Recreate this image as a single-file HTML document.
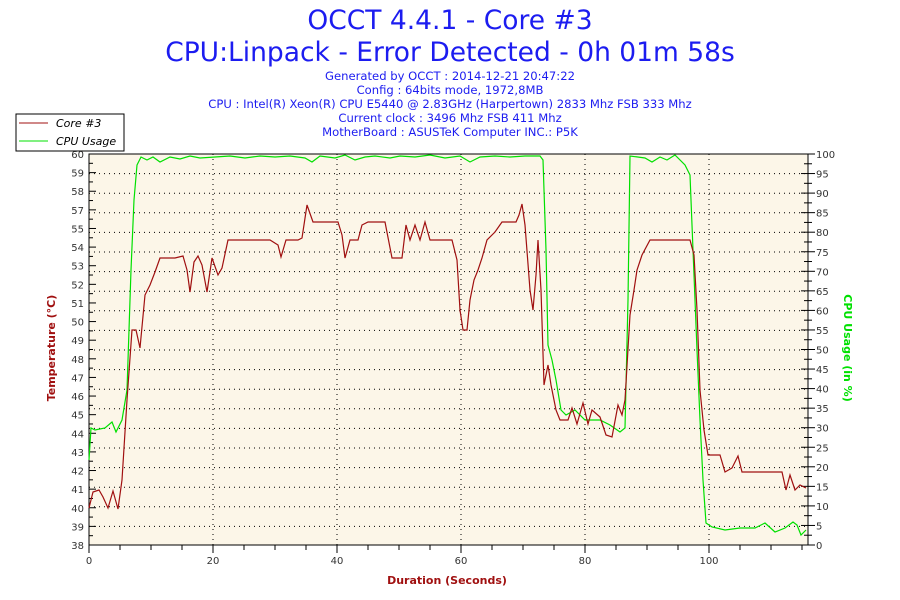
<!DOCTYPE html>
<html><head><meta charset="utf-8"><style>body{margin:0;background:#fff}svg{display:block;font-family:"DejaVu Sans","Liberation Sans",sans-serif}</style></head><body>
<svg width="900" height="600" xmlns="http://www.w3.org/2000/svg">
<rect width="900" height="600" fill="#fff"/>
<g fill="#1c1cf0" text-anchor="middle">
<text x="450" y="29" font-size="26.5">OCCT 4.4.1 - Core #3</text>
<text x="450" y="61" font-size="26.5">CPU:Linpack - Error Detected - 0h 01m 58s</text>
<g font-size="11.6">
<text x="450" y="80">Generated by OCCT : 2014-12-21 20:47:22</text>
<text x="450" y="94">Config : 64bits mode, 1972,8MB</text>
<text x="450" y="108">CPU : Intel(R) Xeon(R) CPU E5440 @ 2.83GHz (Harpertown) 2833 Mhz FSB 333 Mhz</text>
<text x="450" y="122">Current clock : 3496 Mhz FSB 411 Mhz</text>
<text x="450" y="136">MotherBoard : ASUSTeK Computer INC.: P5K</text>
</g></g>
<rect x="89" y="154" width="719" height="391" fill="#fcf6e8"/>
<g stroke="#000" stroke-width="1" stroke-dasharray="1,4">
<path d="M89 173.6H808M89 193.2H808M89 212.8H808M89 232.4H808M89 252H808M89 271.6H808M89 291.2H808M89 310.8H808M89 330.4H808M89 350H808M89 369.6H808M89 389.2H808M89 408.8H808M89 428.4H808M89 448H808M89 467.6H808M89 487.2H808M89 506.8H808M89 526.4H808"/>
<path d="M213 154V545M337 154V545M461 154V545M585 154V545M709 154V545"/>
</g>
<path d="M89 154H808V545H89Z" fill="none" stroke="#000"/>
<g stroke="#000">
<path d="M89 154V545M808 154V545M89 545H808"/>
<path d="M89 545v8M213 545v8M337 545v8M461 545v8M585 545v8M709 545v8M120 545v5M151 545v5M182 545v5M244 545v5M275 545v5M306 545v5M368 545v5M399 545v5M430 545v5M492 545v5M523 545v5M554 545v5M616 545v5M647 545v5M678 545v5M740 545v5M771 545v5M802 545v5"/>
</g>
<g font-size="10" fill="#333" text-anchor="middle">
<text x="89" y="564">0</text><text x="213" y="564">20</text><text x="337" y="564">40</text><text x="461" y="564">60</text><text x="585" y="564">80</text><text x="709" y="564">100</text>
</g>
<g font-size="10" fill="#333" text-anchor="end" id="ly"></g>
<g font-size="10" fill="#333" id="ry"></g>
<g stroke="#000" id="tk"></g>
<polyline fill="none" stroke="#00e000" stroke-width="1.2" points="89,460 91,428 95,430 105,428 112,422 116,432 122,420 127,390 131,270 134,200 137,165 141,157 147,160 153,157 160,162 170,157 180,159 190,156 200,158 215,157 230,156 245,158 260,156 275,157 290,156 305,158 312,162 320,156 335,158 345,155 355,160 365,157 375,156 390,158 400,156 415,157 430,155 445,158 460,156 470,162 480,157 495,156 510,157 525,156 540,156 543,160 546,250 548,345 552,360 556,380 561,410 566,415 575,410 585,420 600,420 610,425 620,432 625,428 628,300 630,156 645,158 652,162 660,157 667,160 675,155 685,165 690,175 693,250 697,350 700,420 703,480 706,523 712,527 725,530 740,528 755,528 765,523 775,532 785,528 793,522 797,525 801,535 806,530"/>
<polyline fill="none" stroke="#a01010" stroke-width="1.2" points="89,508 93,492 99,490 103,497 108,508 113,491 118,509 122,480 127,400 132,330 136,330 140,348 145,295 150,285 155,272 160,258 175,258 183,256 187,270 190,292 194,262 198,256 202,265 207,292 212,258 218,275 222,268 228,240 270,240 278,245 281,257 286,240 298,240 302,238 307,205 313,222 338,222 342,235 345,258 350,240 358,240 362,225 368,222 385,222 392,258 402,258 406,225 410,240 415,225 420,240 425,222 430,240 452,240 457,260 460,310 463,330 467,330 470,300 474,280 478,270 482,258 487,240 495,232 502,222 516,222 519,215 522,204 525,225 530,290 533,310 536,275 538,240 541,290 544,385 548,365 551,385 556,410 560,420 568,420 572,408 577,424 583,403 588,424 592,410 600,417 606,435 612,437 618,405 622,415 625,400 630,315 634,290 637,270 642,255 650,240 690,240 694,255 697,310 700,390 704,430 708,455 720,455 725,472 732,468 738,456 742,472 782,472 786,490 790,475 795,490 800,485 806,488"/>
<rect x="16" y="114" width="108" height="37" fill="#fff" stroke="#000"/>
<line x1="19" y1="123" x2="48" y2="123" stroke="#a01010"/>
<line x1="19" y1="141" x2="48" y2="141" stroke="#00e000"/>
<text x="56" y="127" font-size="11" font-style="italic" fill="#000">Core #3</text>
<text x="56" y="145" font-size="11" font-style="italic" fill="#000">CPU Usage</text>
<text x="447" y="584" font-size="11" font-weight="bold" fill="#a01010" text-anchor="middle">Duration (Seconds)</text>
<text transform="translate(55,348) rotate(-90)" font-size="11" font-weight="bold" fill="#a01010" text-anchor="middle">Temperature (°C)</text>
<text transform="translate(844,348) rotate(90)" font-size="11" font-weight="bold" fill="#00e000" text-anchor="middle">CPU Usage (in %)</text>
<script>
var ns="http://www.w3.org/2000/svg";
var L=[60,59,58,57,55,54,53,52,51,50,49,48,47,46,45,44,43,42,41,40,39,38];
var ly=document.getElementById("ly"),ry=document.getElementById("ry"),tk=document.getElementById("tk");
function t(p,x,y,s){var e=document.createElementNS(ns,"text");e.setAttribute("x",x);e.setAttribute("y",y);e.textContent=s;p.appendChild(e);}
function l(x1,y1,x2,y2){var e=document.createElementNS(ns,"line");e.setAttribute("x1",x1);e.setAttribute("y1",y1);e.setAttribute("x2",x2);e.setAttribute("y2",y2);tk.appendChild(e);}
for(var i=0;i<22;i++){var y=154+i*391/21;t(ly,84,y+4,L[i]);l(89,y,96,y);if(i<21)l(89,y+391/42,93,y+391/42);}
for(var i=0;i<=20;i++){var y=545-i*19.55;t(ry,816,y+4,i*5);l(801,y,815,y);if(i<20)l(804,y-9.78,812,y-9.78);}
</script>
</svg>
</body></html>
